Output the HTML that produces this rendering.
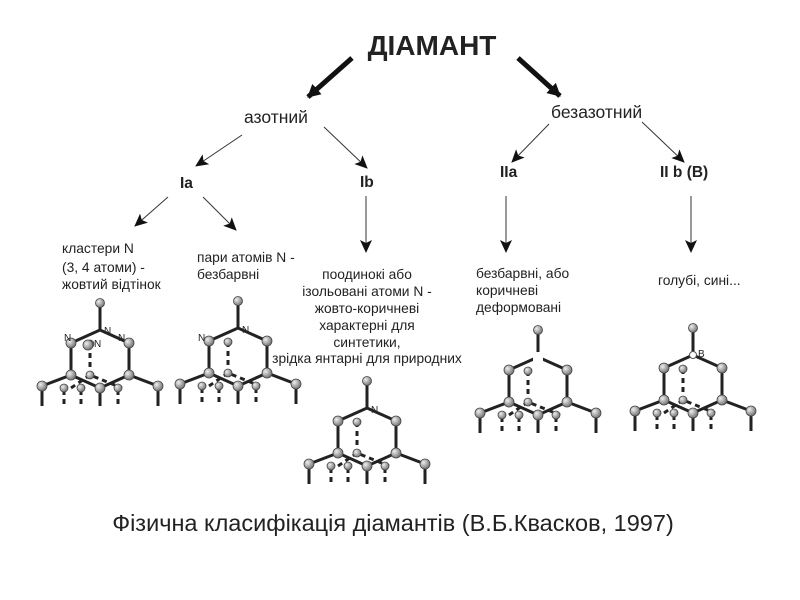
<!DOCTYPE html>
<html><head><meta charset="utf-8"><style>
body{margin:0;background:#fff}
svg{display:block}
text{font-family:"Liberation Sans",sans-serif;fill:#222}
</style></head><body>
<svg width="800" height="600" viewBox="0 0 800 600">
<defs>
<radialGradient id="g" cx="35%" cy="35%" r="65%"><stop offset="0" stop-color="#eee"/><stop offset="1" stop-color="#777"/></radialGradient>
<marker id="a" markerWidth="14" markerHeight="12" refX="12" refY="6" orient="auto" markerUnits="userSpaceOnUse"><path d="M0,0 L13,6 L0,12 L3,6 z" fill="#111"/></marker>
<marker id="b" markerWidth="14" markerHeight="14" refX="12" refY="7" orient="auto" markerUnits="userSpaceOnUse"><path d="M0,0 L13,7 L0,14 z" fill="#111"/></marker>
<g id="lat">
<g stroke="#222" stroke-width="3" fill="none">
<path d="M0,-27 V0 M-29,13 L0,0 L29,13 M-29,13 V45 M29,13 V45 M-58,56 L-29,45 L0,58 L29,45 L58,56 M0,58 V76 M-58,56 V76 M58,56 V76"/>
</g>
<g stroke="#222" stroke-width="3" stroke-dasharray="5,4" fill="none">
<path d="M-10,14 V45 M-29,58 L-10,45 L22,58 M-36,60 V76 M-19,60 V76 M18,60 V76"/>
</g>
<g fill="url(#g)" stroke="#444" stroke-width="0.8">
<circle cx="0" cy="-27" r="4.5"/><circle cx="-29" cy="13" r="5"/><circle cx="29" cy="13" r="5"/>
<circle cx="-29" cy="45" r="5"/><circle cx="29" cy="45" r="5"/><circle cx="0" cy="58" r="5"/>
<circle cx="-58" cy="56" r="5"/><circle cx="58" cy="56" r="5"/><circle cx="-10" cy="14" r="4"/>
<circle cx="-10" cy="45" r="4"/><circle cx="-36" cy="58" r="4"/><circle cx="-19" cy="58" r="4"/><circle cx="18" cy="58" r="4"/>
</g>
</g>
<circle id="at" r="5" fill="url(#g)" stroke="#444" stroke-width="0.8"/>
</defs>

<text x="432" y="55" font-size="28" font-weight="bold" text-anchor="middle" fill="#111">ДІАМАНТ</text>
<line x1="352" y1="58" x2="308" y2="97" stroke="#111" stroke-width="5" marker-end="url(#b)"/>
<line x1="518" y1="58" x2="560" y2="96" stroke="#111" stroke-width="5" marker-end="url(#b)"/>
<text x="244" y="123" font-size="17.5">азотний</text>
<text x="551" y="118" font-size="17.5">безазотний</text>
<line x1="242" y1="135" x2="196" y2="166" stroke="#333" marker-end="url(#a)"/>
<line x1="324" y1="127" x2="367" y2="168" stroke="#333" marker-end="url(#a)"/>
<line x1="549" y1="124" x2="512" y2="162" stroke="#333" marker-end="url(#a)"/>
<line x1="642" y1="122" x2="684" y2="162" stroke="#333" marker-end="url(#a)"/>
<g font-size="15.5" font-weight="bold"><text x="180" y="188">Ia</text><text x="360" y="187">Ib</text><text x="500" y="177">IIa</text><text x="660" y="177">II b (B)</text></g>
<line x1="168" y1="197" x2="135" y2="226" stroke="#333" marker-end="url(#a)"/>
<line x1="203" y1="197" x2="236" y2="230" stroke="#333" marker-end="url(#a)"/>
<line x1="366" y1="196" x2="366" y2="252" stroke="#333" marker-end="url(#a)"/>
<line x1="506" y1="196" x2="506" y2="252" stroke="#333" marker-end="url(#a)"/>
<line x1="691" y1="196" x2="691" y2="252" stroke="#333" marker-end="url(#a)"/>
<g font-size="13.8">
<text x="62" y="253">кластери N</text><text x="62" y="272">(3, 4 атоми) -</text><text x="62" y="289">жовтий відтінок</text>
<text x="197" y="262">пари атомів N -</text><text x="197" y="279">безбарвні</text>
<g text-anchor="middle"><text x="367" y="279">поодинокі або</text><text x="367" y="296">ізольовані атоми N -</text><text x="367" y="313">жовто-коричневі</text><text x="367" y="330">характерні для</text><text x="367" y="347">синтетики,</text><text x="367" y="363">зрідка янтарні для природних</text></g>
<text x="476" y="278">безбарвні, або</text><text x="476" y="295">коричневі</text><text x="476" y="312">деформовані</text>
<text x="658" y="285">голубі, сині...</text>
</g>
<use href="#lat" x="100" y="330"/>
<use href="#lat" x="238" y="328"/>
<use href="#lat" x="367" y="408"/>
<use href="#lat" x="538" y="357"/>
<use href="#lat" x="693" y="355"/>
<rect x="533" y="352" width="10" height="10" fill="#fff"/>
<circle cx="693" cy="355" r="3.5" fill="#fff" stroke="#555"/>
<g font-size="10" fill="#333">
<text x="64" y="341">N</text><text x="104" y="334">N</text><text x="118" y="341">N</text><text x="94" y="347">N</text><use href="#at" x="88" y="345"/>
<text x="198" y="341">N</text><text x="242" y="333">N</text>
<text x="371" y="413">N</text><text x="698" y="357">B</text>
</g>
<text x="393" y="531" font-size="23.5" text-anchor="middle" fill="#111">Фізична класифікація діамантів (В.Б.Квасков, 1997)</text>
</svg>
</body></html>
